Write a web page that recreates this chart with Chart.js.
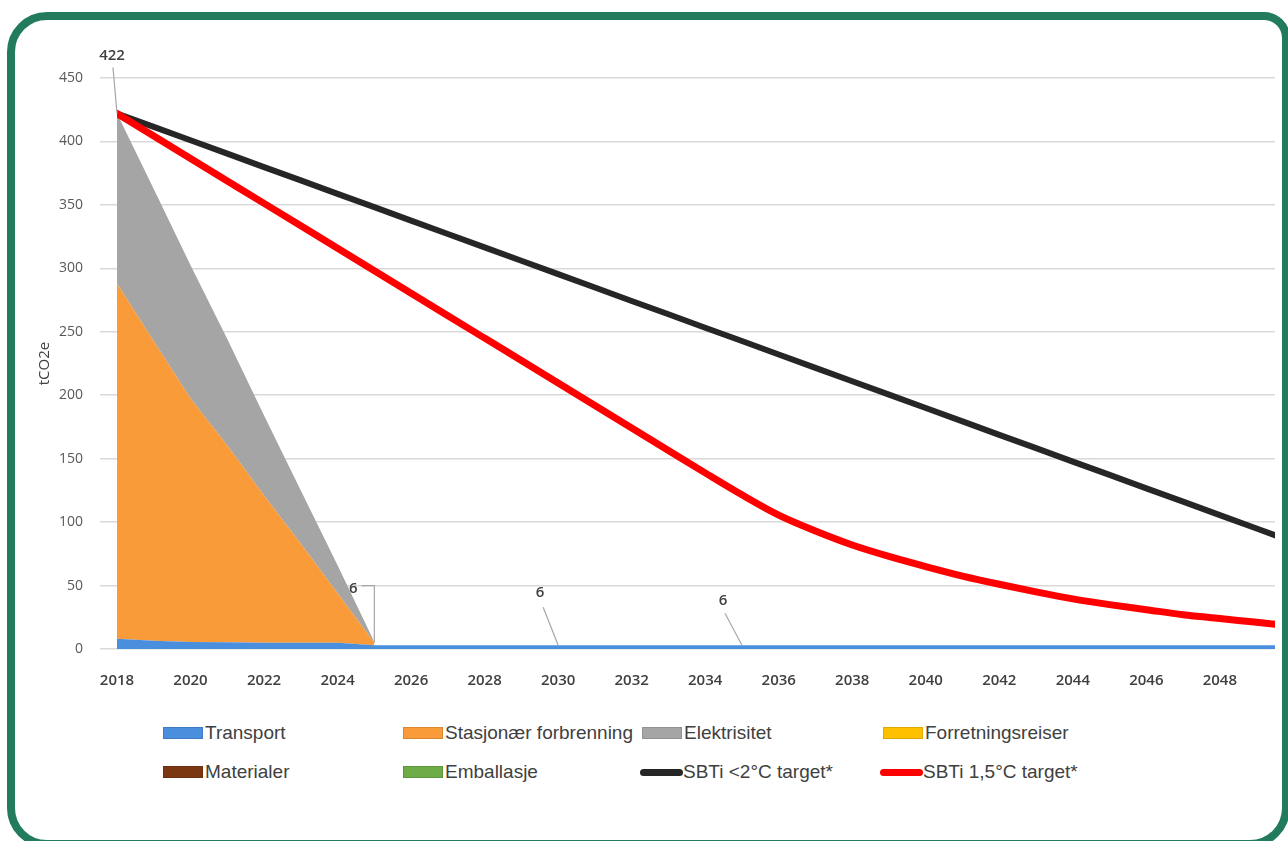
<!DOCTYPE html>
<html lang="no">
<head>
<meta charset="utf-8">
<title>Utslipp tCO2e</title>
<script src="https://cdn.jsdelivr.net/npm/chart.js@4.4.1/dist/chart.umd.min.js"></script>
<style>
    html, body { margin: 0; padding: 0; background: #fff; width: 1288px; height: 841px; overflow: hidden; }
    #card {
        position: absolute; left: 7px; top: 12px; width: 1283px; height: 836px;
        box-sizing: border-box; border: 8px solid #237b5e; border-radius: 40px 26px 40px 40px;
    }
    #chart { position: absolute; left: 0; top: 0; }
    .item {
        position: absolute; display: flex; align-items: center; white-space: nowrap; height: 24px;
        font-family: "Liberation Sans", Arial, sans-serif; font-size: 19px; color: #404040;
    }
    .box { width: 40px; height: 12px; margin-right: 2px; box-sizing: border-box; border: 1px solid rgba(0,0,0,0.12); }
    .line { width: 43px; height: 7px; border-radius: 4px; }
</style>
</head>
<body>
<div id="card"></div>
<canvas id="chart" width="1288" height="700"></canvas>
<div id="legend"></div>

<script>
// Daten
const years = [2018, 2019, 2020, 2021, 2022, 2023, 2024, 2025, 2026, 2027, 2028, 2029, 2030,
    2031, 2032, 2033, 2034, 2035, 2036, 2037, 2038, 2039, 2040, 2041, 2042, 2043, 2044,
    2045, 2046, 2047, 2048, 2049, 2050];
const xTicks = [2018, 2020, 2022, 2024, 2026, 2028, 2030, 2032, 2034, 2036, 2038, 2040, 2042, 2044, 2046, 2048];
const yTicks = [0, 50, 100, 150, 200, 250, 300, 350, 400, 450];

const transport = [8, 6.5, 5.5, 5.3, 5, 5, 5, 3, 3, 3, 3, 3, 3, 3, 3, 3, 3, 3, 3, 3, 3, 3, 3, 3, 3, 3, 3, 3, 3, 3, 3, 3, 3];
const stasjonaer = [280, 236, 192, 155, 116, 78, 39, 2];
const elektrisitet = [134, 120, 105, 84, 63, 42, 22, 0.5];
const forretningsreiser = [];
const materialer = [];
const emballasje = [];
const sbti2 = [422, 411.5, 400.9, 390.4, 379.8, 369.3, 358.7, 348.2, 337.6, 327.1, 316.5, 306.0, 295.4,
    284.9, 274.3, 263.8, 253.2, 242.7, 232.1, 221.6, 211.0, 200.5, 189.9, 179.4, 168.8, 158.3, 147.7,
    137.2, 126.6, 116.1, 105.5, 95.0, 84.4];
const sbti15 = [422, 404.3, 386.6, 368.9, 351.2, 333.5, 315.8, 298.1, 280.4, 262.7, 245.0, 227.3, 209.6,
    191.9, 174.2, 156.5, 138.8, 121.5, 105.5, 93, 82, 73, 65, 57.5, 51, 45, 39.5, 35, 31, 27, 24, 21, 18];

// Datenbeschriftungen mit Führungslinien
const labelYears = [2018, 2025, 2030, 2035];
const labelValues = [422, 5, 3, 3];
const labelTexts = ["422", "6", "6", "6"];

const colors = {
    transport: "#4a8ede",
    stasjonaer: "#f89b38",
    elektrisitet: "#a5a5a5",
    forretning: "#ffc000",
    materialer: "#7a3712",
    emballasje: "#6cab45",
    sbti2: "#262626",
    sbti15: "#ff0000",
};

// Legende
const legendItems = [
    { text: "Transport", color: colors.transport, type: "box", left: 163, top: 721 },
    { text: "Stasjonær forbrenning", color: colors.stasjonaer, type: "box", left: 403, top: 721 },
    { text: "Elektrisitet", color: colors.elektrisitet, type: "box", left: 642, top: 721 },
    { text: "Forretningsreiser", color: colors.forretning, type: "box", left: 883, top: 721 },
    { text: "Materialer", color: colors.materialer, type: "box", left: 163, top: 760 },
    { text: "Emballasje", color: colors.emballasje, type: "box", left: 403, top: 760 },
    { text: "SBTi <2°C target*", color: colors.sbti2, type: "line", left: 640, top: 760 },
    { text: "SBTi 1,5°C target*", color: colors.sbti15, type: "line", left: 880, top: 760 },
];
document.getElementById("legend").innerHTML = legendItems.map((it) =>
    `<div class="item" style="left:${it.left}px;top:${it.top}px">` +
    `<span class="${it.type}" style="background:${it.color}"></span>${it.text}</div>`
).join("");

const leaderPlugin = {
    id: "leaderLabels",
    afterDatasetsDraw(chart) {
        const { ctx, scales: { x, y } } = chart;
        // Textversatz und Startpunkt der Linie relativ zum Datenpunkt (px)
        const layout = [
            { tx: -5, ty: -58, lx: -4, ly: -46, elbow: false },
            { tx: -21, ty: -54, lx: -13, ly: -57, elbow: true },
            { tx: -18, ty: -52, lx: -15, ly: -38, elbow: false },
            { tx: -19, ty: -44, lx: -17, ly: -32, elbow: false },
        ];
        ctx.save();
        labelYears.forEach((yr, i) => {
            const px = x.getPixelForValue(yr);
            const py = y.getPixelForValue(labelValues[i]);
            const l = layout[i];
            ctx.strokeStyle = "#a6a6a6";
            ctx.lineWidth = 1.2;
            ctx.beginPath();
            ctx.moveTo(px + l.lx, py + l.ly);
            if (l.elbow) ctx.lineTo(px, py + l.ly);
            ctx.lineTo(px, py);
            ctx.stroke();
            ctx.fillStyle = "#404040";
            ctx.font = "600 15px 'Open Sans'";
            ctx.textAlign = "center";
            ctx.textBaseline = "middle";
            ctx.fillText(labelTexts[i], px + l.tx, py + l.ty);
        });
        ctx.restore();
    },
};

function area(label, data, color, fill) {
    return {
        label: label, data: data, stack: "utslipp", fill: fill, order: 2,
        backgroundColor: color, borderColor: "transparent", borderWidth: 0,
        pointRadius: 0, tension: 0,
    };
}

new Chart(document.getElementById("chart"), {
    type: "line",
    data: {
        labels: years,
        datasets: [
            area("Transport", transport, colors.transport, "origin"),
            area("Stasjonær forbrenning", stasjonaer, colors.stasjonaer, "-1"),
            area("Elektrisitet", elektrisitet, colors.elektrisitet, "-1"),
            area("Forretningsreiser", forretningsreiser, colors.forretning, false),
            area("Materialer", materialer, colors.materialer, false),
            area("Emballasje", emballasje, colors.emballasje, false),
            {
                label: "SBTi <2°C target*", data: sbti2, stack: "sbti2", order: 1, fill: false,
                borderColor: colors.sbti2, borderWidth: 6, pointRadius: 0, tension: 0,
                borderCapStyle: "round", borderJoinStyle: "round",
            },
            {
                label: "SBTi 1,5°C target*", data: sbti15, stack: "sbti15", order: 0, fill: false,
                borderColor: colors.sbti15, borderWidth: 7, pointRadius: 0,
                cubicInterpolationMode: "monotone", borderCapStyle: "round", borderJoinStyle: "round",
            },
        ],
    },
    options: {
        responsive: false,
        animation: false,
        layout: { padding: { top: 78, right: 13, left: 0, bottom: 0 } },
        plugins: { legend: { display: false }, tooltip: { enabled: false } },
        scales: {
            x: {
                type: "linear",
                min: 2018,
                max: 2049.5,
                grid: { display: false },
                border: { display: false },
                afterBuildTicks: (scale) => { scale.ticks = xTicks.map((v) => ({ value: v })); },
                afterFit: (scale) => { scale.height = 51; },
                ticks: {
                    autoSkip: false, maxRotation: 0, padding: 15, color: "#404040",
                    font: { family: "Open Sans", size: 15, weight: "600" },
                    callback: (v) => String(v),
                },
            },
            y: {
                stacked: true,
                min: 0,
                max: 450,
                afterBuildTicks: (scale) => { scale.ticks = yTicks.map((v) => ({ value: v })); },
                afterFit: (scale) => { scale.width = 117; },
                grid: { color: "#d9d9d9", lineWidth: 1.5, tickLength: 17, tickColor: "#d9d9d9" },
                border: { display: false },
                ticks: {
                    padding: 17, color: "#595959",
                    font: { family: "Open Sans", size: 14 },
                },
                title: {
                    display: true, text: "tCO2e", color: "#404040",
                    font: { family: "Open Sans", size: 15 },
                    padding: { top: 36 },
                },
            },
        },
    },
    plugins: [leaderPlugin],
});
</script>
</body>
</html>
